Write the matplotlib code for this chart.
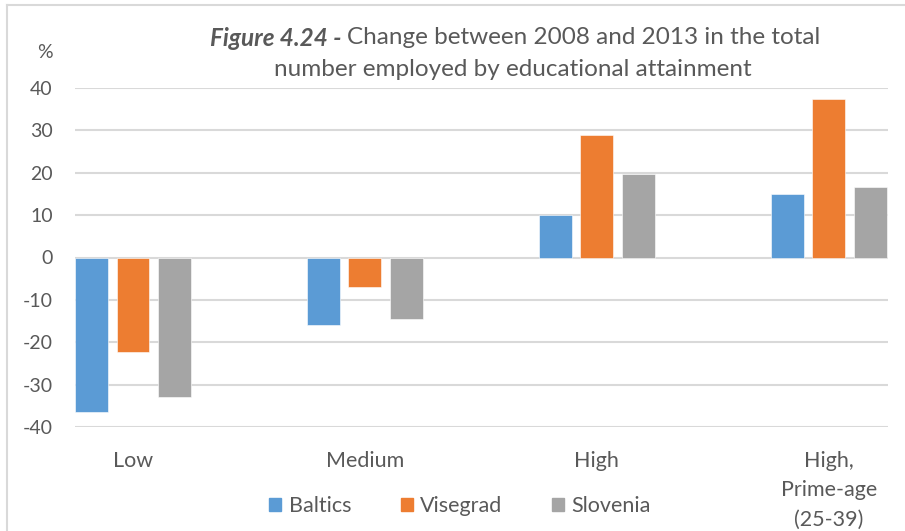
import numpy as np
import matplotlib.pyplot as plt
from matplotlib.patches import Rectangle
from matplotlib.lines import Line2D

plt.rcParams['font.family'] = ['Lato', 'DejaVu Sans']

categories = ["Low", "Medium", "High", "High,\nPrime-age\n(25-39)"]
series = ["Baltics", "Visegrad", "Slovenia"]
baltics = [-36.5, -16.0, 10.0, 14.9]
visegrad = [-22.2, -7.0, 29.0, 37.4]
slovenia = [-32.9, -14.5, 19.6, 16.7]
yticks = [-40, -30, -20, -10, 0, 10, 20, 30, 40]

colors = ["#5B9BD5", "#ED7D31", "#A5A5A5"]
text_col = "#595959"
grid_col = "#D9D9D9"

fig = plt.figure(figsize=(9.05, 5.31), dpi=100)
ax = fig.add_axes([75 / 905, 1 - 427 / 531, 813 / 905, 339 / 531])

x = np.arange(len(categories))
width = 0.142
offset = 0.179
for i, (vals, name) in enumerate(zip([baltics, visegrad, slovenia], series)):
    ax.bar(x + (i - 1) * offset, vals, width, color=colors[i], label=name,
           edgecolor="white", linewidth=0.4, zorder=3)

ax.set_ylim(-40, 40)
ax.set_xlim(-0.25, 3.255)
ax.set_yticks(yticks)
ax.set_yticklabels([str(v) for v in yticks], color=text_col, fontsize=14)
ax.set_xticks([])
for v in yticks:
    ax.axhline(v, color=grid_col, linewidth=1.5, zorder=1)
for s in ax.spines.values():
    s.set_visible(False)
ax.tick_params(axis="y", length=0, pad=16)

# category labels under the plot
for xi, lab in zip(x, categories):
    ax.text(xi, -45.6, lab, ha="center", va="top", fontsize=15.5,
            color=text_col, linespacing=1.6)

fig.text(45 / 905, 1 - 53 / 531, "%", ha="center", va="center",
         fontsize=14, color=text_col)

# title: bold-italic prefix followed by normal text, centred as one line
renderer = fig.canvas.get_renderer()
ty1 = 1 - 38 / 531
p1 = fig.text(0, ty1, "Figure 4.24 - ", ha="left", va="center", fontsize=17.5,
              color=text_col, fontweight="bold", fontstyle="italic")
p2 = fig.text(0, ty1, "Change between 2008 and 2013 in the total", ha="left",
              va="center", fontsize=17.5, color=text_col)
w1 = p1.get_window_extent(renderer).width
w2 = p2.get_window_extent(renderer).width
left = 515 - (w1 + w2) / 2
p1.set_x(left / 905)
p2.set_x((left + w1) / 905)
fig.text(513 / 905, 1 - 70 / 531, "number employed by educational attainment",
         ha="center", va="center", fontsize=17.5, color=text_col)

handles = [Rectangle((0, 0), 1, 1, color=c) for c in colors]
fig.legend(handles, series, loc="center", bbox_to_anchor=(460 / 905, 1 - 506 / 531),
           ncol=3, frameon=False, fontsize=15.5, handlelength=0.55, handleheight=0.55,
           handletextpad=0.35, columnspacing=2.3, labelcolor=text_col)

# chart frame (cropped on right and bottom)
fig.add_artist(Line2D([7 / 905, 7 / 905], [0, 1 - 5 / 531], color=grid_col,
                      linewidth=1.5, transform=fig.transFigure))
fig.add_artist(Line2D([7 / 905, 1], [1 - 5 / 531, 1 - 5 / 531], color=grid_col,
                      linewidth=1.5, transform=fig.transFigure))

fig.savefig("out.png", dpi=100)
